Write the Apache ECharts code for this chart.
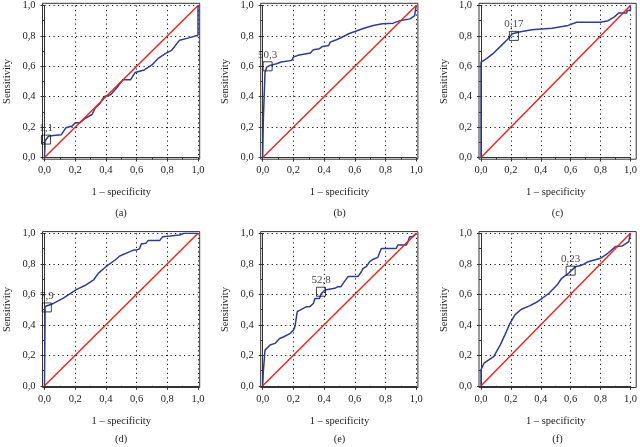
<!DOCTYPE html>
<html>
<head>
<meta charset="utf-8">
<script src="https://cdn.jsdelivr.net/npm/echarts@6/dist/echarts.min.js"></script>
<style>html,body{margin:0;padding:0;background:#fff;}#c{width:640px;height:447px;}</style>
</head>
<body>
<div id="c"></div>
<script>
// ---- data ----
const panelLabels = ['(a)', '(b)', '(c)', '(d)', '(e)', '(f)'];
const tickValues = [0, 0.2, 0.4, 0.6, 0.8, 1.0];
const xAxisName = '1 \u2013 specificity';
const yAxisName = 'Sensitivity';
const diagonal = [[0, 0], [1, 1]];

const curveA = [[0,0],[0.004,0],[0.004,0.11],[0.026,0.14],[0.058,0.145],[0.07,0.15],[0.11,0.15],[0.14,0.196],[0.18,0.207],[0.2,0.228],[0.23,0.228],[0.26,0.254],[0.31,0.283],[0.33,0.326],[0.36,0.354],[0.39,0.402],[0.43,0.413],[0.47,0.457],[0.51,0.511],[0.56,0.511],[0.59,0.559],[0.65,0.576],[0.70,0.609],[0.74,0.652],[0.79,0.685],[0.83,0.707],[0.88,0.772],[0.94,0.787],[1.0,0.804],[1.0,1.0]];
const curveB = [[0,0],[0.004,0.245],[0.015,0.245],[0.015,0.56],[0.026,0.595],[0.048,0.606],[0.058,0.60],[0.09,0.617],[0.12,0.628],[0.19,0.639],[0.2,0.661],[0.23,0.672],[0.31,0.687],[0.33,0.709],[0.37,0.716],[0.39,0.731],[0.43,0.737],[0.44,0.759],[0.48,0.775],[0.51,0.788],[0.56,0.814],[0.61,0.832],[0.65,0.847],[0.72,0.869],[0.78,0.88],[0.85,0.884],[0.90,0.902],[0.96,0.912],[0.99,0.934],[1.0,1.0]];
const curveC = [[0,0],[0,0.628],[0.037,0.65],[0.08,0.683],[0.125,0.726],[0.18,0.78],[0.21,0.814],[0.256,0.825],[0.34,0.84],[0.475,0.851],[0.584,0.869],[0.64,0.89],[0.80,0.89],[0.85,0.90],[0.89,0.923],[0.92,0.95],[0.975,0.95],[0.978,0.967],[1.0,0.967],[1.0,1.0]];
const curveD = [[0,0],[0.004,0.52],[0.015,0.53],[0.058,0.54],[0.12,0.573],[0.17,0.606],[0.21,0.632],[0.27,0.661],[0.32,0.694],[0.35,0.737],[0.40,0.781],[0.46,0.825],[0.49,0.851],[0.545,0.875],[0.58,0.89],[0.60,0.89],[0.62,0.90],[0.63,0.93],[0.66,0.934],[0.675,0.952],[0.75,0.952],[0.77,0.978],[0.816,0.982],[0.88,0.989],[0.91,1.0],[1.0,1.0]];
const curveE = [[0,0],[0.004,0.092],[0.011,0.092],[0.015,0.234],[0.026,0.245],[0.048,0.267],[0.08,0.278],[0.11,0.31],[0.134,0.32],[0.18,0.344],[0.2,0.365],[0.21,0.387],[0.22,0.387],[0.225,0.486],[0.264,0.508],[0.286,0.519],[0.307,0.519],[0.33,0.54],[0.34,0.573],[0.37,0.573],[0.38,0.602],[0.39,0.606],[0.405,0.628],[0.415,0.639],[0.47,0.639],[0.49,0.65],[0.51,0.65],[0.524,0.672],[0.556,0.716],[0.62,0.716],[0.643,0.748],[0.654,0.77],[0.675,0.781],[0.697,0.814],[0.72,0.83],[0.75,0.842],[0.76,0.869],[0.773,0.90],[0.87,0.90],[0.88,0.923],[0.935,0.923],[0.946,0.945],[0.957,0.978],[0.978,0.978],[1.0,1.0]];
const curveF = [[0,0],[0,0.105],[0.02,0.148],[0.052,0.17],[0.085,0.192],[0.13,0.27],[0.16,0.334],[0.194,0.41],[0.227,0.465],[0.27,0.502],[0.325,0.524],[0.368,0.546],[0.41,0.574],[0.455,0.607],[0.51,0.662],[0.54,0.705],[0.586,0.738],[0.63,0.78],[0.673,0.79],[0.717,0.814],[0.80,0.836],[0.848,0.869],[0.90,0.913],[0.946,0.917],[0.989,0.945],[1.0,0.956],[1.0,1.0]];
const curves = [curveA, curveB, curveC, curveD, curveE, curveF];

const cutPoints = [[0.01, 0.118], [0.032, 0.60], [0.22, 0.80], [0.015, 0.514], [0.38, 0.617], [0.60, 0.755]];
const cutLabels = ['1,1', '50,3', '0,17', '7,9', '52,8', '0,23'];

// ---- layout / style ----
const FONT = 'Liberation Serif';
const BLUE = '#2e3d8f';
const RED = '#e8231f';
const INK = '#222';
const lefts = [44.5, 262.7, 481];
const tops = [5, 233.3];
const W = 153.5, H = 152.5;
const labelPos = [[121, 213], [339.5, 213], [557.5, 213], [121, 439], [339.5, 439], [557.5, 439]];

const fmt = v => v.toFixed(1).replace('.', ',');

const grid = [], xAxis = [], yAxis = [], series = [], graphic = [];
for (let i = 0; i < 6; i++) {
  const col = i % 3, row = Math.floor(i / 3);
  const L = lefts[col], T = tops[row];
  const fi = 2 * i, di = 2 * i + 1;
  grid.push({left: L - 2, top: T - 1.7, width: W + 3.7, height: H + 3.4, show: true,
             borderColor: '#333', borderWidth: 1, backgroundColor: 'transparent'});
  grid.push({left: L, top: T, width: W, height: H});
  xAxis.push({gridIndex: fi, type: 'value', min: 0, max: 1, show: false});
  yAxis.push({gridIndex: fi, type: 'value', min: 0, max: 1, show: false});
  const common = {
    gridIndex: di, type: 'value', min: 0, max: 1, interval: 0.2,
    axisLine: {show: true, lineStyle: {color: '#333', width: 1}},
    axisTick: {show: true, length: 4, lineStyle: {color: '#333'}},
    minorTick: {show: true, splitNumber: 2, length: 2, lineStyle: {color: '#333'}},
    splitLine: {show: true, lineStyle: {type: [1.2, 3.3], color: '#111', width: 1}},
    axisLabel: {formatter: fmt, fontFamily: FONT, fontSize: 10.5, color: INK},
    nameLocation: 'middle',
    nameTextStyle: {fontFamily: FONT, fontSize: 10.5, color: INK}
  };
  xAxis.push(Object.assign({}, common, {position: 'bottom', offset: 1.7, name: xAxisName, nameGap: 28,
    axisLabel: Object.assign({}, common.axisLabel, {margin: 6})}));
  yAxis.push(Object.assign({}, common, {position: 'left', offset: 2, name: yAxisName, nameGap: 29.5,
    axisLabel: Object.assign({}, common.axisLabel, {margin: 7})}));

  series.push({type: 'line', xAxisIndex: di, yAxisIndex: di, data: curves[i], showSymbol: false,
    lineStyle: {color: BLUE, width: 1.5}, animation: false, z: 3});
  series.push({type: 'line', xAxisIndex: di, yAxisIndex: di, data: diagonal, showSymbol: false,
    lineStyle: {color: RED, width: 1.4}, animation: false, z: 4});
  series.push({type: 'scatter', xAxisIndex: di, yAxisIndex: di, data: [cutPoints[i]],
    symbol: 'rect', symbolSize: 9,
    itemStyle: {color: 'rgba(0,0,0,0)', borderColor: '#111', borderWidth: 1},
    label: {show: true, position: 'top', distance: 1, formatter: cutLabels[i],
            fontFamily: FONT, fontSize: 11, color: '#111'},
    animation: false, z: 10});

  graphic.push({type: 'text', x: labelPos[i][0], y: labelPos[i][1],
    style: {text: panelLabels[i], fill: INK, font: '10.5px "' + FONT + '"', textAlign: 'center', textVerticalAlign: 'middle'}});
}

const chart = echarts.init(document.getElementById('c'));
chart.setOption({animation: false, grid, xAxis, yAxis, series, graphic});
</script>
</body>
</html>
